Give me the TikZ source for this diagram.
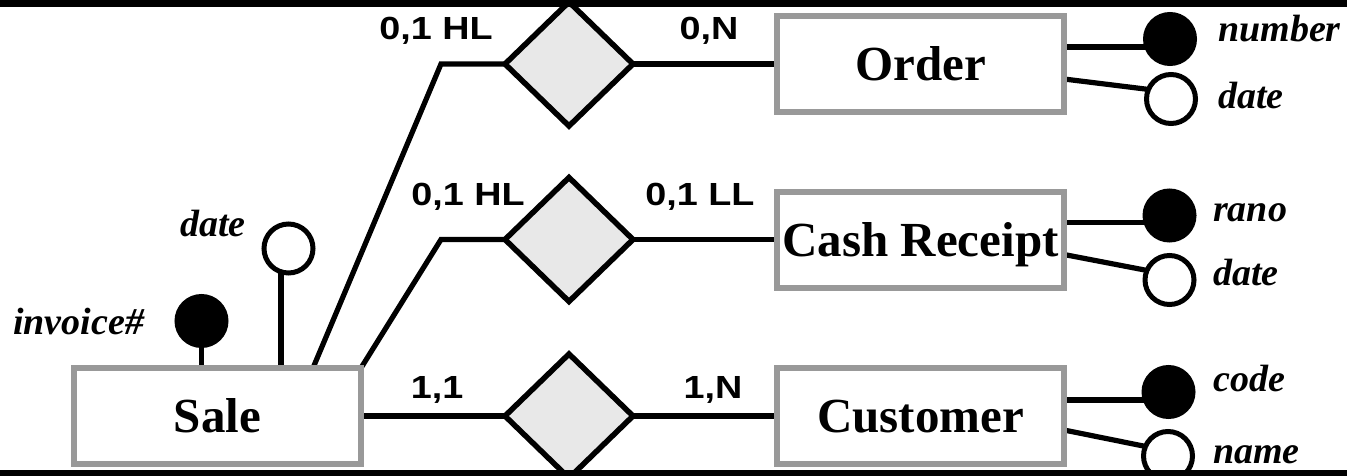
\documentclass[tikz,border=0pt]{standalone}
\usepackage{fontspec}
\setmainfont{Liberation Serif}
\newfontfamily\cardfont{Liberation Sans}
\usetikzlibrary{shapes.geometric,calc}
\definecolor{boxgray}{RGB}{153,153,153}
\definecolor{dfill}{RGB}{232,232,232}
\newcommand{\cardtxt}[1]{\scalebox{1.18}[1]{#1}}
\pgfdeclarelayer{bg}\pgfdeclarelayer{fg}\pgfsetlayers{bg,main,fg}
\begin{document}
\begin{tikzpicture}[x=1pt,y=-1pt,
 entity/.style={rectangle, draw=boxgray, line width=6pt, fill=white, minimum width=287pt, minimum height=96pt, inner sep=0pt, outer sep=0pt, text height=33pt, text depth=0pt, font=\fontsize{49}{51}\selectfont\bfseries},
 rel/.style={diamond, draw=black, line width=5.5pt, fill=dfill, minimum width=128pt, minimum height=124pt, inner sep=0pt, outer sep=0pt},
 keyattr/.style={circle, draw=black, fill=black, line width=5pt, minimum size=49pt, inner sep=0pt, outer sep=0pt},
 plainattr/.style={circle, draw=black, fill=white, line width=5pt, minimum size=49pt, inner sep=0pt, outer sep=0pt},
 card/.style={anchor=base, inner sep=0pt, font=\cardfont\fontsize{32}{34}\selectfont\bfseries},
 attrlbl/.style={anchor=base west, inner sep=0pt, font=\fontsize{38}{40}\selectfont\bfseries\itshape},
 conn/.style={draw=black, line width=5.2pt, line join=miter}
]
\useasboundingbox (0,0) rectangle (1347,476);

% entities
\node[entity] (order) at (920.5,64) {Order};
\node[entity] (cash) at (920.5,239.5) {Cash Receipt};
\node[entity] (cust) at (920.5,416) {Customer};
\node[entity] (sale) at (217.5,416) {Sale};

% relationships
\node[rel] (d1) at (569,64) {};
\node[rel] (d2) at (569,239.5) {};
\node[rel] (d3) at (569,416) {};

% attribute circles
\node[keyattr] (onum) at (1170,39) {};
\node[plainattr] (odate) at (1171,99) {};
\node[keyattr] (crano) at (1169.5,215.5) {};
\node[plainattr] (cdate) at (1169.5,280) {};
\node[keyattr] (ccode) at (1168.5,392) {};
\node[plainattr] (cname) at (1168,456) {};
\node[keyattr] (sinv) at (201.5,321) {};
\node[plainattr] (sdate) at (288.5,248.5) {};

% attribute labels
\node[attrlbl] (lnum) at (1218,42) {number};
\node[attrlbl] (lodate) at (1218,109) {date};
\node[attrlbl] (lrano) at (1213,222) {rano};
\node[attrlbl] (lcdate) at (1213,285) {date};
\node[attrlbl] (lcode) at (1213,391) {code};
\node[attrlbl] (lname) at (1213,463) {name};
\node[attrlbl] (lsdate) at (180,236) {date};
\node[attrlbl] (linv) at (13,334) {invoice\#};

% cardinalities
\node[card] (c1) at (436,40) {\cardtxt{0,1 HL}};
\node[card] (c2) at (709,40) {\cardtxt{0,N}};
\node[card] (c3) at (468,205) {\cardtxt{0,1 HL}};
\node[card] (c4) at (700,205) {\cardtxt{0,1 LL}};
\node[card] (c5) at (437,398) {\cardtxt{1,1}};
\node[card] (c6) at (713,398) {\cardtxt{1,N}};

% helper coordinates
\coordinate (b1) at ([xshift=-64pt]d1.west);
\coordinate (b2) at ([xshift=-64pt]d2.west);
\coordinate (s1) at ([xshift=-48pt]sale.north east);
\coordinate (sds) at ([xshift=-7.5pt]sdate.center);
\coordinate (oa) at ([yshift=17pt]order.east);
\coordinate (ob) at ([yshift=-15pt]order.east);
\coordinate (ca) at ([yshift=17pt]cash.east);
\coordinate (cb) at ([yshift=-15pt]cash.east);
\coordinate (ua) at ([yshift=16pt]cust.east);
\coordinate (ub) at ([yshift=-14pt]cust.east);

\begin{pgfonlayer}{bg}
\draw[conn] (s1) -- (b1) -- (d1.west);
\draw[conn] (sale.north east) -- (b2) -- (d2.west);
\draw[conn] (sale.east) -- (d3.west);
\draw[conn] (d1.east) -- (order.west);
\draw[conn] (d2.east) -- (cash.west);
\draw[conn] (d3.east) -- (cust.west);
\draw[conn] (sinv.center) -- (sinv.center |- sale.north);
\draw[conn] (sds) -- (sds |- sale.north);
\draw[conn] (oa) -- (oa -| onum.center);
\draw[conn] (ob) -- (odate.157);
\draw[conn] (ca) -- (ca -| crano.center);
\draw[conn] (cb) -- (cdate.157);
\draw[conn] (ua) -- (ua -| ccode.center);
\draw[conn] (ub) -- (cname.157);
\end{pgfonlayer}

\begin{pgfonlayer}{fg}
\fill[black] (0,0) rectangle (1347,7.5);
\fill[black] (0,470) rectangle (1347,476);
\end{pgfonlayer}
\end{tikzpicture}
\end{document}
